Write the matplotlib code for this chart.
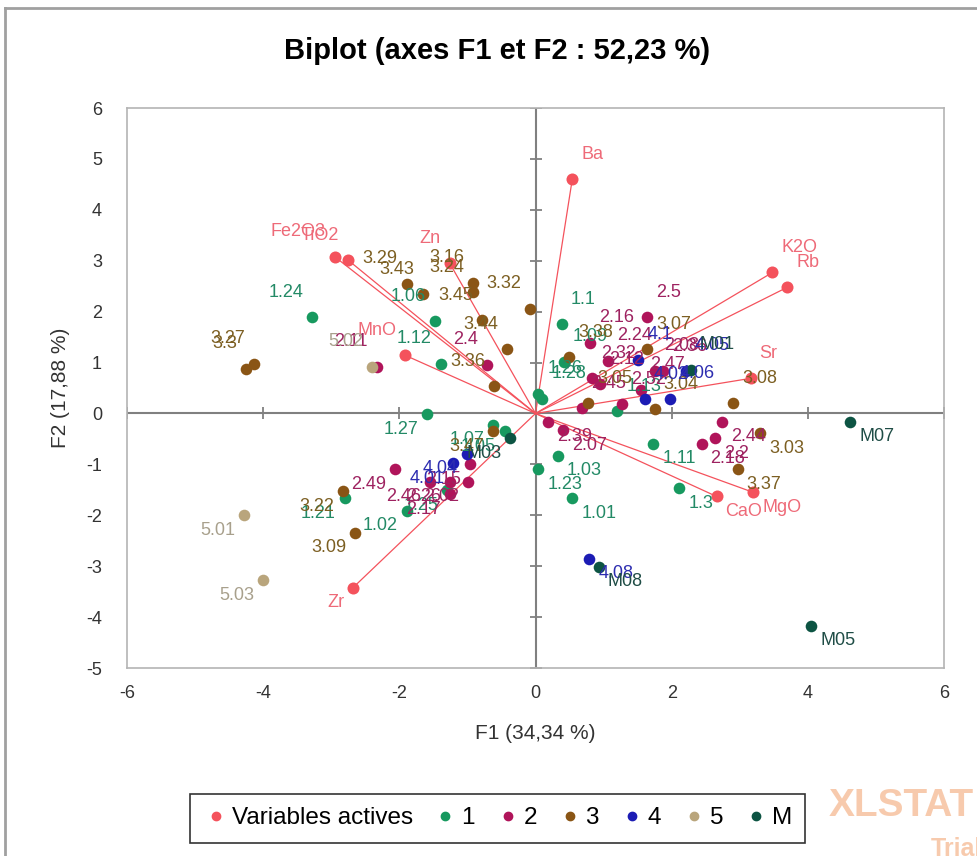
import matplotlib.pyplot as plt
from matplotlib.lines import Line2D
import numpy as np

plt.rcParams['axes.unicode_minus'] = False

# active variables (loadings scaled to the biplot)
var_names = ['Ba', 'Fe2O3', 'TiO2', 'Zn', 'MnO', 'K2O', 'Rb', 'Sr', 'CaO', 'MgO', 'Zr']
var_x = [0.54, -2.95, -2.75, -1.26, -1.91, 3.48, 3.70, 3.16, 2.66, 3.20, -2.68]
var_y = [4.60, 3.08, 3.01, 2.95, 1.14, 2.77, 2.48, 0.69, -1.63, -1.55, -3.42]

# observations, group 1
g1_lab = ['1.24', '1.06', '1.12', '1.27', '1.1', '1.09', '1.26', '1.28', '1.13', '1.03',
          '1.23', '1.01', '1.11', '1.3', '1.21', '1.02', '1.07', '1.25', '1.05']
g1_x = [-3.28, -1.48, -1.39, -1.59, 0.39, 0.42, 0.04, 0.10, 1.20, 0.33,
        0.04, 0.54, 1.73, 2.11, -2.80, -1.89, -0.62, -1.30, -0.45]
g1_y = [1.89, 1.81, 0.98, -0.02, 1.75, 1.02, 0.39, 0.29, 0.04, -0.83,
        -1.10, -1.67, -0.59, -1.47, -1.67, -1.91, -0.22, -1.51, -0.35]

# group 2
g2_lab = ['2.11', '2.4', '2.5', '2.16', '2.24', '2.08', '2.36', '2.32', '2.47', '2.12',
          '2.45', '2.52', '2.39', '2.07', '2.44', '2.18', '2.2', '2.49', '2.15',
          '2.46', '2.26', '2.02', '2.17']
g2_x = [-2.33, -0.71, 1.64, 0.80, 1.06, 1.75, 1.87, 0.83, 1.55, 0.95,
        0.68, 1.27, 0.18, 0.40, 2.74, 2.44, 2.64, -2.06, -0.96,
        -1.55, -1.26, -0.99, -1.26]
g2_y = [0.92, 0.96, 1.89, 1.39, 1.04, 0.84, 0.83, 0.69, 0.47, 0.57,
        0.10, 0.18, -0.16, -0.33, -0.16, -0.59, -0.49, -1.10, -1.00,
        -1.34, -1.34, -1.34, -1.59]

# group 3
g3_lab = ['3.27', '3.3', '3.29', '3.43', '3.16', '3.24', '3.32', '3.45', '3.44', '3.36',
          '3.38', '3.07', '3.04', '3.08', '3.03', '3.37', '3.22', '3.09', '3.47', '3.05']
g3_x = [-4.13, -4.25, -1.89, -1.65, -0.92, -0.92, -0.08, -0.79, -0.42, -0.61,
        0.49, 1.64, 1.75, 2.90, 3.30, 2.97, -2.83, -2.65, -0.62, 0.77]
g3_y = [0.98, 0.88, 2.55, 2.34, 2.57, 2.38, 2.06, 1.83, 1.26, 0.53,
        1.10, 1.26, 0.08, 0.20, -0.39, -1.10, -1.53, -2.34, -0.35, 0.20]

# group 4
g4_lab = ['4.1', '4.06', '4.02', '4.05', '4.08', '4.01', '4.04']
g4_x = [1.51, 1.98, 1.61, 2.21, 0.79, -1.21, -1.01]
g4_y = [1.06, 0.29, 0.28, 0.84, -2.85, -0.98, -0.79]

# group 5
g5_lab = ['5.01', '5.03', '5.02']
g5_x = [-4.28, -4.00, -2.40]
g5_y = [-2.00, -3.28, 0.92]

# group M
gm_lab = ['M07', 'M05', 'M08', 'M01', 'M03']
gm_x = [4.62, 4.05, 0.93, 2.28, -0.37]
gm_y = [-0.16, -4.17, -3.01, 0.86, -0.49]

groups = [
    ('1', g1_lab, g1_x, g1_y, '#17995f', '#238a66'),
    ('2', g2_lab, g2_x, g2_y, '#b0145a', '#9e2260'),
    ('3', g3_lab, g3_x, g3_y, '#8a5515', '#7c5f22'),
    ('4', g4_lab, g4_x, g4_y, '#1c1cb4', '#2d2db0'),
    ('5', g5_lab, g5_x, g5_y, '#b9a57c', '#a8a08c'),
    ('M', gm_lab, gm_x, gm_y, '#0d5443', '#1f4d46'),
]
var_col = '#f4525c'
var_txt = '#ee6a78'

narrow = ['Liberation Sans Narrow', 'Liberation Sans', 'DejaVu Sans']
lblfont = ['Liberation Sans', 'DejaVu Sans']


def put_label(ax, x, y, s, color):
    # labels go outward from the origin, one per quadrant
    right = x >= 0
    up = y >= 0
    dx = 9 if right else -9
    dy = 25 if up else -15
    ax.annotate(s, (x, y), xytext=(dx, dy), textcoords='offset pixels',
                ha='left' if right else 'right', va='center',
                fontsize=13, color=color, family=lblfont, zorder=6)


fig = plt.figure(figsize=(9.78, 8.56), dpi=100)
ax = fig.add_axes([0.1299, 0.2196, 0.8353, 0.6542])

ax.set_xlim(-6, 6)
ax.set_ylim(-5, 6)
for sp in ax.spines.values():
    sp.set_color('#b4b4b4')
    sp.set_linewidth(1.2)

# axes through the origin with their tick marks
ax.axhline(0, color='#808080', lw=1.5, zorder=1)
ax.axvline(0, color='#808080', lw=1.5, zorder=1)
xt = np.arange(-6, 7, 2)
yt = np.arange(-5, 7, 1)
ax.plot(xt, np.zeros(len(xt)), ls='none', marker='|', ms=9, mew=1.3, color='#808080', zorder=1)
ax.plot(np.zeros(len(yt)), yt, ls='none', marker='_', ms=9, mew=1.3, color='#808080', zorder=1)

ax.set_xticks(xt)
ax.set_yticks(yt)
ax.tick_params(length=0, labelsize=13, labelcolor='#333333')
ax.tick_params(axis='x', pad=12)
ax.tick_params(axis='y', pad=18)
for t in ax.get_xticklabels() + ax.get_yticklabels():
    t.set_family(narrow)

# loading vectors
for vx, vy in zip(var_x, var_y):
    ax.plot([0, vx], [0, vy], color=var_col, lw=0.9, zorder=2)
ax.scatter(var_x, var_y, s=75, color=var_col, zorder=3, linewidths=0)

for name, labs, xs, ys, col, tcol in groups:
    ax.scatter(xs, ys, s=70, color=col, zorder=4, linewidths=0)

for vx, vy, nm in zip(var_x, var_y, var_names):
    put_label(ax, vx, vy, nm, var_txt)
for name, labs, xs, ys, col, tcol in groups:
    for x, y, s in zip(xs, ys, labs):
        put_label(ax, x, y, s, tcol)

ax.set_xlabel('F1 (34,34 %)', fontsize=15, family=narrow, color='#333333', labelpad=16)
ax.set_ylabel('F2 (17,88 %)', fontsize=15, family=narrow, color='#333333', labelpad=12)
fig.text(0.508, 0.941, 'Biplot (axes F1 et F2 : 52,23 %)', ha='center', va='center',
         fontsize=21, fontweight='bold', family=narrow)

handles = [Line2D([], [], ls='none', marker='o', ms=6, color=var_col, label='Variables actives')]
for name, labs, xs, ys, col, tcol in groups:
    handles.append(Line2D([], [], ls='none', marker='o', ms=6, color=col, label=name))
leg = fig.legend(handles=handles, loc='center', bbox_to_anchor=(0.509, 0.044), ncol=7,
                 frameon=True, fancybox=False, edgecolor='black', handletextpad=0.15,
                 columnspacing=0.85, borderpad=0.55, handlelength=1.0,
                 prop={'family': narrow, 'size': 17.5})
leg.get_frame().set_linewidth(1.2)

# trial watermark and chart area border
fig.text(0.847, 0.058, 'XLSTAT', fontsize=28, fontweight='bold', color='#f2a06a', alpha=0.55,
         ha='left', va='center', family=narrow)
fig.text(0.952, 0.008, 'Trial', fontsize=18, fontweight='bold', color='#f2a06a', alpha=0.55,
         ha='left', va='center', family=narrow)
fig.add_artist(Line2D([0.005, 1.0], [0.991, 0.991], color='#a0a0a0', lw=2))
fig.add_artist(Line2D([0.005, 0.005], [0.0, 0.991], color='#a0a0a0', lw=2))

fig.savefig('out.png', dpi=100)
